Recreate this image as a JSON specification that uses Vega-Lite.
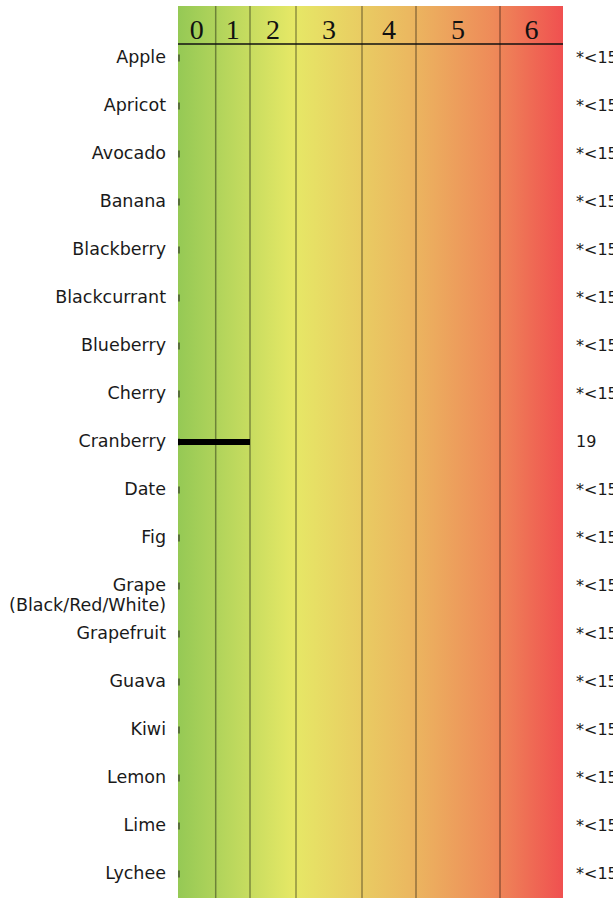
{
  "$schema": "https://vega.github.io/schema/vega-lite/v6.json",
  "width": 385,
  "height": 892,
  "autosize": {"type": "none"},
  "padding": {"left": 178, "top": 6, "right": 50, "bottom": 0},
  "background": "white",
  "config": {"view": {"stroke": null}},
  "datasets": {
    "fruits": [
      {"fruit": "Apple", "row": 1, "score": 0, "value": "*<15"},
      {"fruit": "Apricot", "row": 2, "score": 0, "value": "*<15"},
      {"fruit": "Avocado", "row": 3, "score": 0, "value": "*<15"},
      {"fruit": "Banana", "row": 4, "score": 0, "value": "*<15"},
      {"fruit": "Blackberry", "row": 5, "score": 0, "value": "*<15"},
      {"fruit": "Blackcurrant", "row": 6, "score": 0, "value": "*<15"},
      {"fruit": "Blueberry", "row": 7, "score": 0, "value": "*<15"},
      {"fruit": "Cherry", "row": 8, "score": 0, "value": "*<15"},
      {"fruit": "Cranberry", "row": 9, "score": 2, "value": "19"},
      {"fruit": "Date", "row": 10, "score": 0, "value": "*<15"},
      {"fruit": "Fig", "row": 11, "score": 0, "value": "*<15"},
      {"fruit": "Grape\n(Black/Red/White)", "row": 12, "score": 0, "value": "*<15"},
      {"fruit": "Grapefruit", "row": 13, "score": 0, "value": "*<15"},
      {"fruit": "Guava", "row": 14, "score": 0, "value": "*<15"},
      {"fruit": "Kiwi", "row": 15, "score": 0, "value": "*<15"},
      {"fruit": "Lemon", "row": 16, "score": 0, "value": "*<15"},
      {"fruit": "Lime", "row": 17, "score": 0, "value": "*<15"},
      {"fruit": "Lychee", "row": 18, "score": 0, "value": "*<15"}
    ],
    "cols": [
      {"label": "0", "start": 0, "mid": 0.5},
      {"label": "1", "start": 1, "mid": 1.5},
      {"label": "2", "start": 2, "mid": 2.5},
      {"label": "3", "start": 3, "mid": 3.5},
      {"label": "4", "start": 4, "mid": 4.5},
      {"label": "5", "start": 5, "mid": 5.5},
      {"label": "6", "start": 6, "mid": 6.5}
    ],
    "frame": [{"left": 0, "right": 7, "top": -0.08333, "bottom": 18.5, "headline": 0.708, "headtext": 0.604}]
  },
  "layer": [
    {
      "data": {"name": "frame"},
      "mark": {
        "type": "rect",
        "stroke": null,
        "fill": {
          "gradient": "linear",
          "x1": 0, "y1": 0, "x2": 1, "y2": 0,
          "stops": [
            {"offset": 0, "color": "#95C955"},
            {"offset": 0.3, "color": "#E6E866"},
            {"offset": 0.6, "color": "#EBB860"},
            {"offset": 0.82, "color": "#EE8A59"},
            {"offset": 1, "color": "#F05050"}
          ]
        }
      },
      "encoding": {
        "x": {"field": "left", "type": "quantitative", "axis": null,
              "scale": {"type": "linear", "domain": [0, 1, 2, 3, 4, 5, 6, 7], "range": [0, 37.7, 72, 118, 184, 238, 322, 385], "nice": false, "zero": false, "padding": 0}},
        "x2": {"field": "right"},
        "y": {"field": "top", "type": "quantitative", "axis": null,
              "scale": {"type": "linear", "domain": [-0.08333, 18.5], "reverse": true, "nice": false, "zero": false, "padding": 0}},
        "y2": {"field": "bottom"}
      }
    },
    {
      "data": {"name": "cols"},
      "transform": [{"filter": "datum.start > 0"}],
      "mark": {"type": "rule", "color": "#000000", "opacity": 0.38, "strokeWidth": 1.5},
      "encoding": {
        "x": {"field": "start", "type": "quantitative"}
      }
    },
    {
      "data": {"name": "frame"},
      "mark": {"type": "rule", "color": "#111111", "strokeWidth": 1.5},
      "encoding": {
        "x": {"field": "left", "type": "quantitative"},
        "x2": {"field": "right"},
        "y": {"field": "headline", "type": "quantitative"}
      }
    },
    {
      "data": {"name": "cols"},
      "mark": {"type": "text", "font": "Liberation Serif", "fontSize": 28, "align": "center", "baseline": "alphabetic", "color": "#111111"},
      "encoding": {
        "x": {"field": "mid", "type": "quantitative"},
        "y": {"datum": 0.604, "type": "quantitative"},
        "text": {"field": "label"}
      }
    },
    {
      "data": {"name": "fruits"},
      "mark": {"type": "tick", "orient": "vertical", "size": 7, "thickness": 1.5, "color": "#222222", "xOffset": 1},
      "encoding": {
        "x": {"datum": 0, "type": "quantitative"},
        "y": {"field": "row", "type": "quantitative"}
      }
    },
    {
      "data": {"name": "fruits"},
      "transform": [{"filter": "datum.score > 0"}],
      "mark": {"type": "bar", "orient": "horizontal", "color": "#000000", "size": 6},
      "encoding": {
        "x": {"field": "score", "type": "quantitative"},
        "y": {"field": "row", "type": "quantitative"}
      }
    },
    {
      "data": {"name": "fruits"},
      "mark": {"type": "text", "font": "DejaVu Sans", "fontSize": 17.5, "align": "right", "baseline": "alphabetic", "dx": -12, "dy": 5, "lineBreak": "\n", "lineHeight": 20, "color": "#1a1a1a"},
      "encoding": {
        "x": {"datum": 0, "type": "quantitative"},
        "y": {"field": "row", "type": "quantitative"},
        "text": {"field": "fruit"}
      }
    },
    {
      "data": {"name": "fruits"},
      "mark": {"type": "text", "font": "DejaVu Sans", "fontSize": 16, "align": "left", "baseline": "alphabetic", "dx": 13, "dy": 5, "color": "#1a1a1a"},
      "encoding": {
        "x": {"datum": 7, "type": "quantitative"},
        "y": {"field": "row", "type": "quantitative"},
        "text": {"field": "value"}
      }
    }
  ]
}
